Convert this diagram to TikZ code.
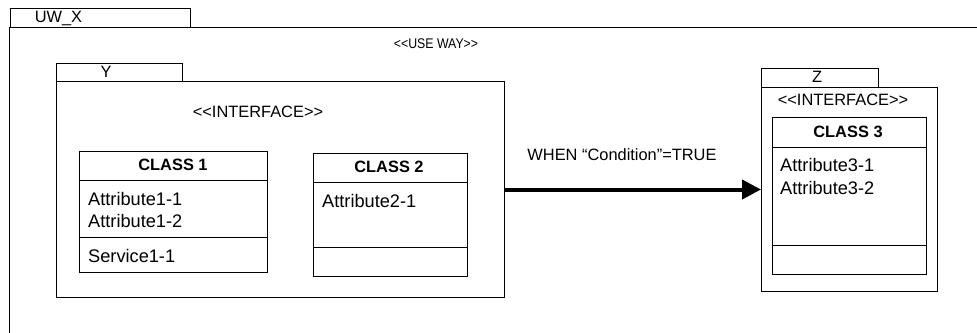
\documentclass[tikz,border=0pt]{standalone}
\usepackage{fontspec}
\setmainfont{Liberation Sans}
\usetikzlibrary{arrows.meta}
\newcommand{\dlt}{<\kern0pt<}
\newcommand{\dgt}{>\kern0pt>}
\begin{document}
\begin{tikzpicture}[x=1pt,y=-1pt,
  frame/.style={draw, line width=1pt},
  box/.style={draw, line width=1pt, inner sep=0pt, anchor=north west},
  lbl/.style={inner sep=0pt, font=\fontsize{16.4}{19}\selectfont},
  hdr/.style={inner sep=0pt, font=\bfseries\fontsize{16.4}{19}\selectfont},
  attr/.style={inner sep=0pt, anchor=west, font=\fontsize{18.2}{22}\selectfont},
  div/.style={line width=1pt}
]
\useasboundingbox (0,0) rectangle (977,332);

% outer package UW_X
\node[box, minimum width=180pt, minimum height=19pt] (uwtab) at (9.5,8) {};
\node[lbl] (uwlbl) at (58.5,18) {UW\_X};
\draw[frame] (990,27) -- (9.5,27) -- (9.5,345);
\node[lbl, font=\fontsize{14}{16}\selectfont] (useway) at (436,44) {\scalebox{0.88}[1]{\dlt USE WAY\dgt}};

% package Y
\node[box, minimum width=126pt, minimum height=18pt] (ytab) at (56,63) {};
\node[lbl] (ylbl) at (106,72) {Y};
\node[box, minimum width=448pt, minimum height=216pt] (ybody) at (56,81) {};
\node[lbl] (yint) at (258,112) {\dlt INTERFACE\dgt};

% class 1
\node[box, minimum width=188pt, minimum height=121pt] (c1) at (79,151) {};
\draw[div] (79,180) -- (267,180);
\draw[div] (79,237) -- (267,237);
\node[hdr] (c1h) at (173,165) {CLASS 1};
\node[attr] (a11) at (88,199) {Attribute1-1};
\node[attr] (a12) at (88,221) {Attribute1-2};
\node[attr] (s11) at (88,256) {Service1-1};

% class 2
\node[box, minimum width=154pt, minimum height=123pt] (c2) at (313,153) {};
\draw[div] (313,182) -- (467,182);
\draw[div] (313,247) -- (467,247);
\node[hdr] (c2h) at (389,167) {CLASS 2};
\node[attr] (a21) at (322,201) {Attribute2-1};

% package Z
\node[box, minimum width=117pt, minimum height=19pt] (ztab) at (761,68) {};
\node[lbl] (zlbl) at (817,77) {Z};
\node[box, minimum width=176pt, minimum height=204pt] (zbody) at (761,87) {};
\node[lbl] (zint) at (843,100) {\dlt INTERFACE\dgt};

% class 3
\node[box, minimum width=154pt, minimum height=157pt] (c3) at (772,117) {};
\draw[div] (772,147) -- (926,147);
\draw[div] (772,245) -- (926,245);
\node[hdr] (c3h) at (848,132) {CLASS 3};
\node[attr] (a31) at (780,165) {Attribute3-1};
\node[attr] (a32) at (780,188) {Attribute3-2};

% transition arrow
\draw[line width=4pt, -{Triangle[length=19pt,width=19pt]}] (ybody.east) -- (zbody.west);
\node[lbl] (cond) at (622,155) {WHEN “Condition”=TRUE};
\end{tikzpicture}
\end{document}
